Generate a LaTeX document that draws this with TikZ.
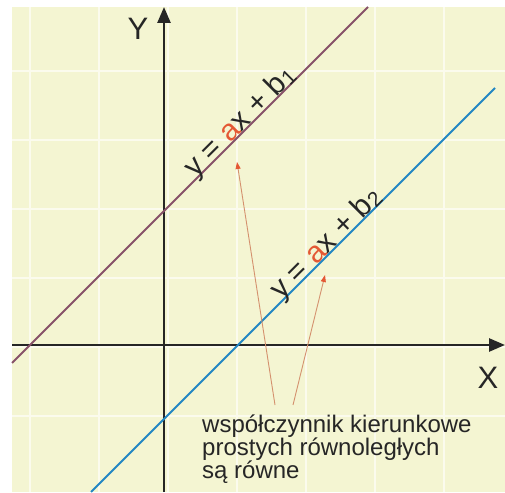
\documentclass[tikz,border=0pt]{standalone}
\usepackage{fontspec}
\setmainfont{Liberation Sans}
\usetikzlibrary{arrows.meta}

\definecolor{paper}{RGB}{244,245,210}
\definecolor{gridwhite}{RGB}{251,251,237}
\definecolor{lineone}{RGB}{135,82,105}
\definecolor{linetwo}{RGB}{35,135,195}
\definecolor{coef}{RGB}{228,88,52}
\definecolor{pointer}{RGB}{212,145,110}

\newcommand{\lowidx}[1]{\raisebox{-2pt}{\fontsize{21}{21}\selectfont #1}}

\tikzset{
	axis/.style={line width=2.6pt, draw=black!85, -{Triangle[length=16pt,width=13pt]}},
	graph/.style={line width=2pt},
	pointer/.style={line width=0.9pt, draw=pointer, -{Triangle[length=7pt,width=5pt,color=coef]}},
	biglabel/.style={font=\fontsize{31}{31}\selectfont, text=black!85, inner sep=0pt},
	eqlabel/.style={font=\fontsize{30}{30}\selectfont, text=black!85, inner sep=0pt, anchor=base, rotate=45},
}

\begin{document}
\begin{tikzpicture}[x=1pt,y=1pt]

	%page size and the yellow sheet
	\useasboundingbox (0,0) rectangle (505,492);
	\fill[paper] (12,0) rectangle (505,485);
	
	%light grid on the sheet
	\foreach \gx in {30,99,168,237,306,375,444}
		\draw[gridwhite, line width=1.6pt] (\gx,0) -- (\gx,485);
	\foreach \gy in {76,145,214,283,352,421}
		\draw[gridwhite, line width=1.6pt] (12,\gy) -- (505,\gy);
	
	%axes with their names
	\coordinate (xstart) at (12,147);
	\coordinate (xend) at (505,147);
	\coordinate (ystart) at (164,0);
	\coordinate (yend) at (164,485);
	\draw[axis] (xstart) -- (xend);
	\draw[axis] (ystart) -- (yend);
	\node[biglabel] (ylab) at (138,463) {Y};
	\node[biglabel] (xlab) at (488,114) {X};
	
	%the two parallel lines
	\coordinate (onestart) at (12,129);
	\coordinate (oneend) at (368,485);
	\coordinate (twostart) at (91,0);
	\coordinate (twoend) at (495,404);
	\draw[graph, lineone] (onestart) -- (oneend);
	\draw[graph, linetwo] (twostart) -- (twoend);
	
	%equations written along the lines
	\node[eqlabel] (eqone) at (246,364) {y = {\color{coef}a}x + b\lowidx{1}};
	\node[eqlabel] (eqtwo) at (332,242) {y = {\color{coef}a}x + b\lowidx{2}};
	
	%note below and the arrows to both slopes
	\node[anchor=base west, align=left, inner sep=0pt, text=black!85,
		font=\fontsize{24}{23}\selectfont] (note) at (202,14)
		{współczynnik kierunkowe\\prostych równoległych\\są równe};
	\coordinate (tipone) at (237,330);
	\coordinate (tiptwo) at (325,217);
	\coordinate (footone) at (275,87);
	\coordinate (foottwo) at (293,87);
	\draw[pointer] (footone) -- (tipone);
	\draw[pointer] (foottwo) -- (tiptwo);

\end{tikzpicture}
\end{document}
